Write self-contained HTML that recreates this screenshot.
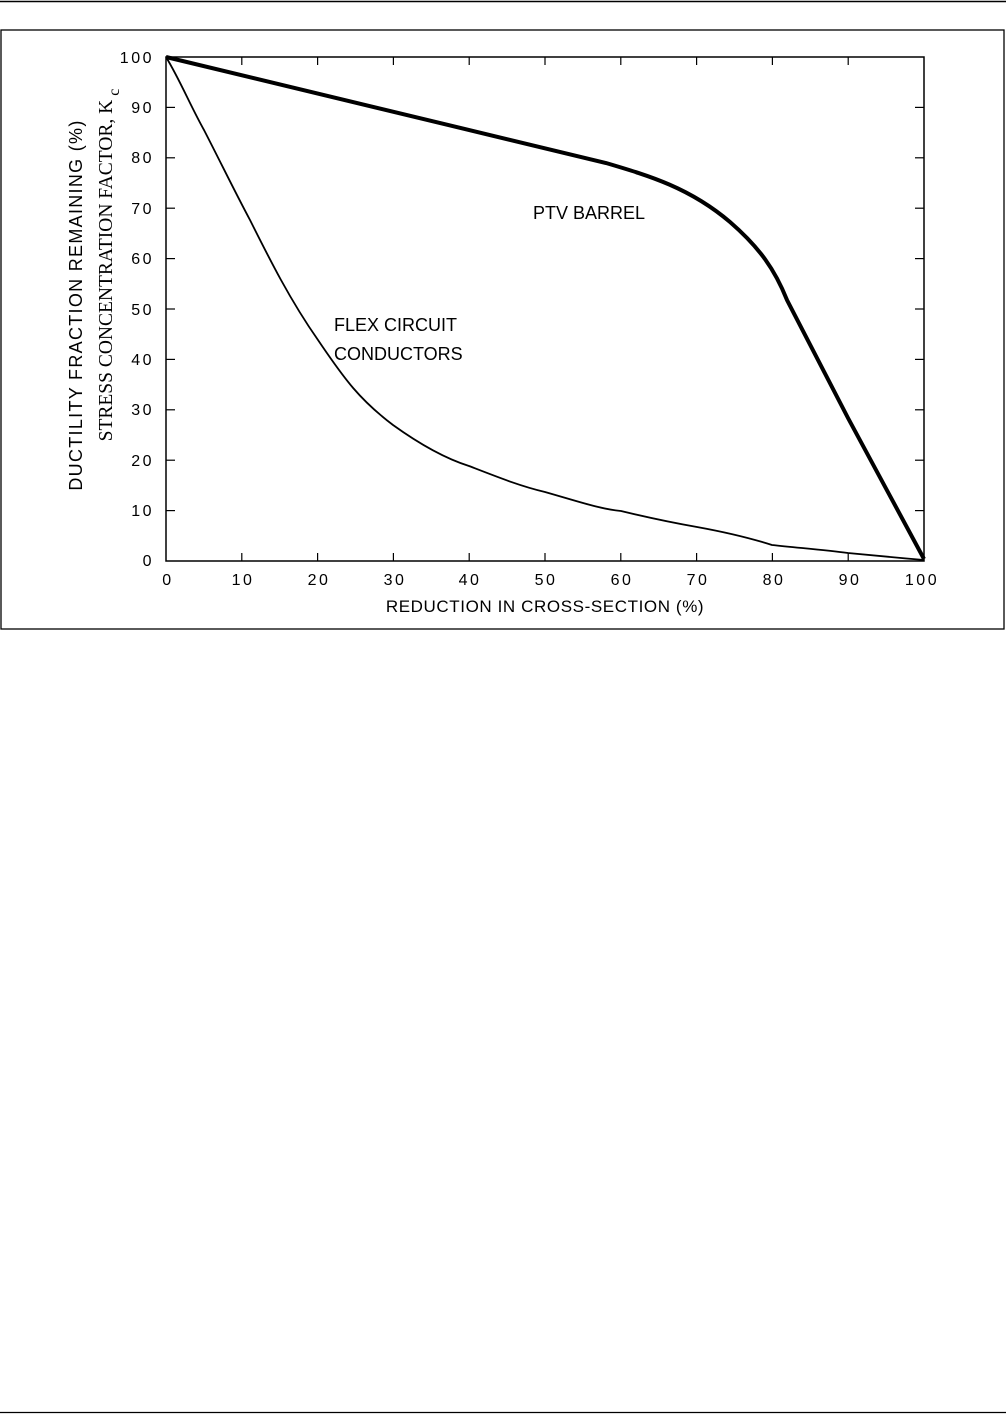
<!DOCTYPE html>
<html><head><style>
body{margin:0;background:#fff;}
svg{display:block;}
</style></head><body>
<svg width="1006" height="1414" viewBox="0 0 1006 1414" xmlns="http://www.w3.org/2000/svg">
<line x1="0" y1="1.5" x2="1006" y2="1.5" stroke="#000" stroke-width="1.5"/>
<line x1="0" y1="1412.5" x2="1006" y2="1412.5" stroke="#000" stroke-width="1.2"/>
<rect x="1" y="30" width="1003" height="599" fill="none" stroke="#000" stroke-width="1.3"/>
<rect x="166" y="57" width="758" height="504" fill="none" stroke="#000" stroke-width="1.5"/>
<g stroke="#000" stroke-width="1.2">
<line x1="241.8" y1="561" x2="241.8" y2="553"/><line x1="317.6" y1="561" x2="317.6" y2="553"/><line x1="393.4" y1="561" x2="393.4" y2="553"/><line x1="469.2" y1="561" x2="469.2" y2="553"/><line x1="545" y1="561" x2="545" y2="553"/><line x1="620.8" y1="561" x2="620.8" y2="553"/><line x1="696.6" y1="561" x2="696.6" y2="553"/><line x1="772.4" y1="561" x2="772.4" y2="553"/><line x1="848.2" y1="561" x2="848.2" y2="553"/>
<line x1="241.8" y1="57" x2="241.8" y2="65"/><line x1="317.6" y1="57" x2="317.6" y2="65"/><line x1="393.4" y1="57" x2="393.4" y2="65"/><line x1="469.2" y1="57" x2="469.2" y2="65"/><line x1="545" y1="57" x2="545" y2="65"/><line x1="620.8" y1="57" x2="620.8" y2="65"/><line x1="696.6" y1="57" x2="696.6" y2="65"/><line x1="772.4" y1="57" x2="772.4" y2="65"/><line x1="848.2" y1="57" x2="848.2" y2="65"/>
<line x1="166" y1="510.6" x2="175" y2="510.6"/><line x1="166" y1="460.2" x2="175" y2="460.2"/><line x1="166" y1="409.8" x2="175" y2="409.8"/><line x1="166" y1="359.4" x2="175" y2="359.4"/><line x1="166" y1="309" x2="175" y2="309"/><line x1="166" y1="258.6" x2="175" y2="258.6"/><line x1="166" y1="208.2" x2="175" y2="208.2"/><line x1="166" y1="157.8" x2="175" y2="157.8"/><line x1="166" y1="107.4" x2="175" y2="107.4"/>
<line x1="924" y1="510.6" x2="915" y2="510.6"/><line x1="924" y1="460.2" x2="915" y2="460.2"/><line x1="924" y1="409.8" x2="915" y2="409.8"/><line x1="924" y1="359.4" x2="915" y2="359.4"/><line x1="924" y1="309" x2="915" y2="309"/><line x1="924" y1="258.6" x2="915" y2="258.6"/><line x1="924" y1="208.2" x2="915" y2="208.2"/><line x1="924" y1="157.8" x2="915" y2="157.8"/><line x1="924" y1="107.4" x2="915" y2="107.4"/>
</g>
<path d="M166,57 L606,163 C650,176 690,188 730,222 C760,248 775,270 787,300 L848,418 L924,559" fill="none" stroke="#000" stroke-width="4"/>
<path d="M166,57 C180,80 190,105 204,130 C222,165 235,192 250,220 C270,260 290,300 318,340 C345,380 360,400 393,425 C425,448 450,460 469,466 C500,478 520,486 545,492 C580,502 600,509 621,511 C650,518 680,524 697,527 C730,533 750,538 772,545 C800,548 825,550 848,553 C880,556 900,558 924,560" fill="none" stroke="#000" stroke-width="1.8"/>
<g font-family="Liberation Sans, sans-serif" font-size="16" fill="#000" letter-spacing="2.5">
<g text-anchor="end">
<text x="154" y="63">100</text><text x="154" y="113">90</text><text x="154" y="163">80</text><text x="154" y="214">70</text><text x="154" y="264">60</text><text x="154" y="315">50</text><text x="154" y="365">40</text><text x="154" y="415">30</text><text x="154" y="466">20</text><text x="154" y="516">10</text><text x="154" y="566">0</text>
</g>
<g text-anchor="middle">
<text x="168" y="585">0</text><text x="243" y="585">10</text><text x="319" y="585">20</text><text x="395" y="585">30</text><text x="470" y="585">40</text><text x="546" y="585">50</text><text x="622" y="585">60</text><text x="698" y="585">70</text><text x="774" y="585">80</text><text x="850" y="585">90</text><text x="922" y="585">100</text>
</g>
</g>
<g font-family="Liberation Sans, sans-serif" font-size="17" fill="#000">
<text x="545" y="612" text-anchor="middle" letter-spacing="0.6">REDUCTION  IN  CROSS-SECTION (%)</text>
<text x="533" y="219" font-size="18">PTV  BARREL</text>
<text x="334" y="331" font-size="18">FLEX  CIRCUIT</text>
<text x="334" y="360" font-size="18">CONDUCTORS</text>
<text transform="translate(82,305) rotate(-90)" text-anchor="middle" font-size="18" letter-spacing="1.3">DUCTILITY  FRACTION  REMAINING  (%)</text>
</g>
<text transform="translate(112,265) rotate(-90)" text-anchor="middle" font-family="Liberation Serif, serif" font-size="19.5" fill="#000">STRESS CONCENTRATION FACTOR, K<tspan dy="7" font-size="16"> c</tspan></text>
</svg>
</body></html>
